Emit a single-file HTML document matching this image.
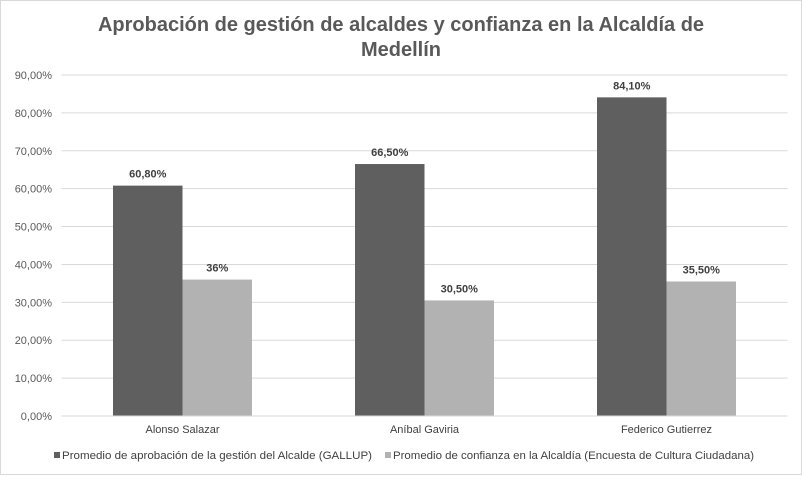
<!DOCTYPE html>
<html><head><meta charset="utf-8"><style>
body{margin:0;background:#fff}
#c{position:relative;width:802px;height:475px;font-family:"Liberation Sans",sans-serif}
svg text{font-family:"Liberation Sans",sans-serif}
</style></head><body>
<div id="c">
<svg id="s" width="802" height="475">
<rect x="0.5" y="0.5" width="801" height="474" fill="#fff" stroke="#d9d9d9"/>
<text x="401" y="31" text-anchor="middle" font-size="20" font-weight="bold" fill="#595959">Aprobación de gestión de alcaldes y confianza en la Alcaldía de</text>
<text x="401" y="56" text-anchor="middle" font-size="20" font-weight="bold" fill="#595959">Medellín</text>
</svg>
</div>
<script>
const categories=["Alonso Salazar","Aníbal Gaviria","Federico Gutierrez"];
const gallup=[60.8,66.5,84.1];
const confianza=[36,30.5,35.5];
const gallupLabels=["60,80%","66,50%","84,10%"];
const confianzaLabels=["36%","30,50%","35,50%"];
const ticks=[0,10,20,30,40,50,60,70,80,90];
const tickLabels=["0,00%","10,00%","20,00%","30,00%","40,00%","50,00%","60,00%","70,00%","80,00%","90,00%"];
const NS="http://www.w3.org/2000/svg",svg=document.getElementById('s');
const x0=61.5,x1=787.5,yTop=75,yBot=416,maxV=90;
const y=v=>yBot-(v/maxV)*(yBot-yTop);
const band=(x1-x0)/categories.length;
const cx=i=>x0+band*(i+0.5);
function mk(t,a,txt){const e=document.createElementNS(NS,t);for(const k in a)e.setAttribute(k,a[k]);if(txt!=null)e.textContent=txt;svg.appendChild(e);return e;}
ticks.forEach((t,i)=>{
 const g=mk('line',{x1:x0,x2:x1,y1:y(t),y2:y(t),stroke:'#d9d9d9','stroke-width':1});
 
 
 const l=mk('text',{x:52,y:y(t)+4,'text-anchor':'end','font-size':11,fill:'#595959'},tickLabels[i]);
 
 
});
const bw=69.5;
categories.forEach((c,i)=>{
 const b1=mk('rect',{x:cx(i)-bw,y:y(gallup[i]),width:bw,height:yBot-y(gallup[i]),fill:'#5f5f5f'});
 
 
 const b2=mk('rect',{x:cx(i),y:y(confianza[i]),width:bw,height:yBot-y(confianza[i]),fill:'#b2b2b2'});
 
 
 const l1=mk('text',{x:cx(i)-bw/2,y:y(gallup[i])-8,'text-anchor':'middle','font-size':11,'font-weight':'bold',fill:'#404040'},gallupLabels[i]);
 
 
 const l2=mk('text',{x:cx(i)+bw/2,y:y(confianza[i])-8,'text-anchor':'middle','font-size':11,'font-weight':'bold',fill:'#404040'},confianzaLabels[i]);
 
 
 const cl=mk('text',{x:cx(i),y:433,'text-anchor':'middle','font-size':11,fill:'#404040'},c);
 
 
});
const ax=mk('line',{x1:x0,x2:x1,y1:yBot,y2:yBot,stroke:'#d9d9d9'});


const lg=[["#5f5f5f",54,310,"Promedio de aprobación de la gestión del Alcalde (GALLUP)"],["#b2b2b2",385,361,"Promedio de confianza en la Alcaldía (Encuesta de Cultura Ciudadana)"]];
lg.forEach(([col,x,w,t])=>{
 const r=mk('rect',{x:x,y:452,width:6,height:6,fill:col});
 
 
 const tx=mk('text',{x:x+8,y:459,'font-size':11,fill:'#404040',textLength:w,lengthAdjust:'spacingAndGlyphs'},t);
 
 
});
</script>
</body></html>
